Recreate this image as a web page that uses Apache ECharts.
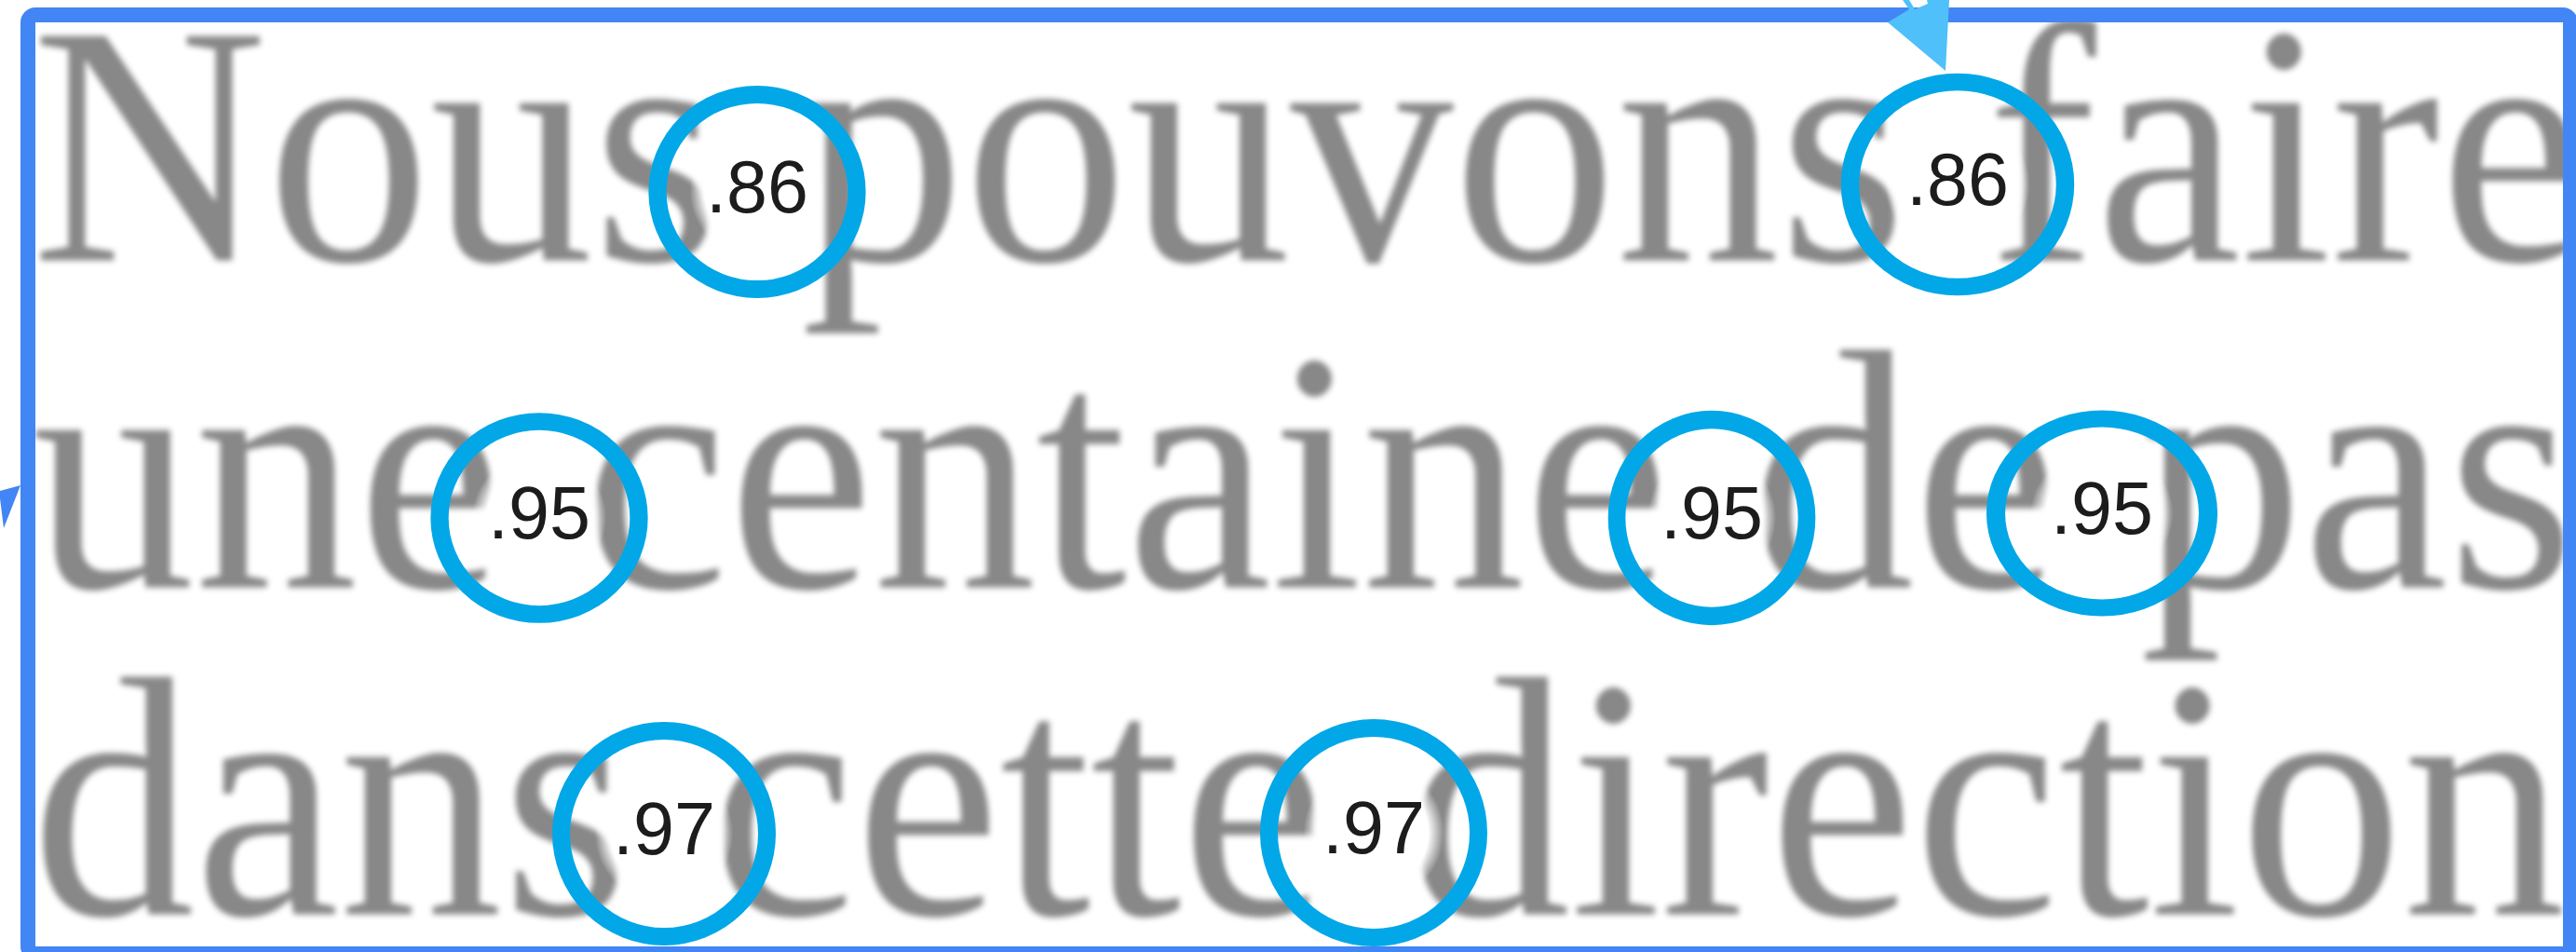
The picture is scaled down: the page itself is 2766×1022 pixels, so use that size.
<!DOCTYPE html>
<html>
<head>
<meta charset="utf-8">
<script src="https://cdn.jsdelivr.net/npm/echarts@6/dist/echarts.min.js"></script>
<style>
  html, body { margin: 0; background: #fff; }
  #chart { width: 2766px; height: 1022px; }
</style>
</head>
<body>
<div id="chart"></div>
<script>
// the phrase behind the circles, one entry per line
const lines = ['Nous pouvons faire', 'une centaine de pas', 'dans cette direction'];

// score in each circle, and where it sits on the page (x, y in px)
const scores = [0.86, 0.86, 0.95, 0.95, 0.95, 0.97, 0.97];
const circleX = [813, 2102, 579, 1838, 2257, 713, 1475];
const circleY = [206, 198, 556, 556, 551, 895, 894];

// drawing settings
const ringSize = [[214, 209], [231, 220], [214, 207], [204, 211], [228, 203], [221, 221], [225, 225]];
const baselines = [277, 628, 979];
const textSize = 350;
const stretchY = 1.05;
const W = 2766, H = 1022;
const SHIFT = 6000; // words are drawn off-page, only their blurred shadow lands here

const chart = echarts.init(document.getElementById('chart'));

const fmt = v => v.toFixed(2).replace(/^0/, '');

// soft white centre so the gray words fade out behind the label
const discFill = {
  type: 'radial', x: 0.5, y: 0.5, r: 0.5,
  colorStops: [
    { offset: 0, color: 'rgba(255,255,255,1)' },
    { offset: 0.48, color: 'rgba(255,255,255,1)' },
    { offset: 0.62, color: 'rgba(255,255,255,0)' },
    { offset: 1, color: 'rgba(255,255,255,0)' }
  ]
};

const textEls = lines.map((t, i) => ({
  type: 'text',
  z: 0,
  silent: true,
  x: 34 - SHIFT,
  y: baselines[i] - textSize * 0.256 * stretchY,
  scaleY: stretchY,
  style: {
    text: t,
    font: textSize + 'px "Liberation Serif", "Times New Roman", serif',
    fill: '#888888',
    verticalAlign: 'middle',
    textShadowColor: '#888888',
    textShadowBlur: 6,
    textShadowOffsetX: SHIFT
  }
}));

chart.setOption({
  animation: false,
  grid: { left: 0, right: 0, top: 0, bottom: 0 },
  xAxis: { type: 'value', min: 0, max: W, show: false },
  yAxis: { type: 'value', min: 0, max: H, inverse: true, show: false },
  graphic: textEls.concat([
    {
      type: 'rect', z: 100, silent: true,
      shape: { x: 30, y: 16, width: 2730, height: 1008, r: 8 },
      style: { fill: null, stroke: '#4285f4', lineWidth: 16 }
    },
    {
      // arrowhead coming in from the top edge
      type: 'polygon', z: 101, silent: true,
      shape: { points: [[2043, 0], [2050, 0], [2056, 10], [2070, 4], [2069, 0], [2093, 0], [2089, 76], [2027, 24], [2050, 10]] },
      style: { fill: '#4fc0fa' }
    },
    {
      // arrowhead on the left edge
      type: 'polygon', z: 101, silent: true,
      shape: { points: [[22, 521], [0, 527], [0, 535], [4, 567]] },
      style: { fill: '#4285f4' }
    }
  ]),
  series: [{
    type: 'scatter',
    z: 2,
    symbol: 'circle',
    data: scores.map((s, i) => ({ value: [circleX[i], circleY[i], s], symbolSize: ringSize[i] })),
    itemStyle: { color: discFill, borderColor: '#02a7e8', borderWidth: 19, opacity: 1 },
    label: {
      show: true,
      position: 'inside',
      formatter: p => fmt(p.value[2]),
      fontFamily: '"Liberation Sans", Arial, sans-serif',
      fontSize: 79,
      color: '#1c1c1c'
    },
    emphasis: { disabled: true }
  }]
});
</script>
</body>
</html>
